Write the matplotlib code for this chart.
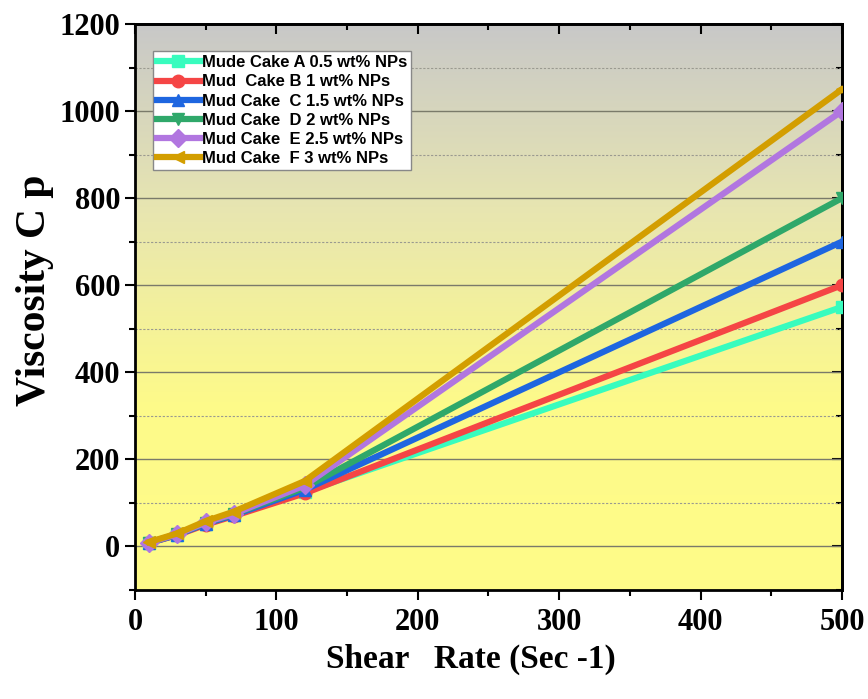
import numpy as np
import matplotlib
matplotlib.use("Agg")
import matplotlib.pyplot as plt
from matplotlib.colors import LinearSegmentedColormap
from matplotlib.ticker import MultipleLocator

shear_rate = [10, 30, 50, 70, 120, 500]
cake_a = [8, 27, 52, 72, 125, 550]
cake_b = [8, 26, 50, 70, 122, 600]
cake_c = [8, 27, 52, 72, 130, 700]
cake_d = [9, 28, 54, 74, 135, 800]
cake_e = [9, 28, 55, 75, 140, 1000]
cake_f = [10, 30, 58, 80, 150, 1050]
labels = ["Mude Cake A 0.5 wt% NPs", "Mud  Cake B 1 wt% NPs", "Mud Cake  C 1.5 wt% NPs",
          "Mud Cake  D 2 wt% NPs", "Mud Cake  E 2.5 wt% NPs", "Mud Cake  F 3 wt% NPs"]
series = [cake_a, cake_b, cake_c, cake_d, cake_e, cake_f]
colors = ["#38FCBE", "#F54545", "#1E66E0", "#2FA86A", "#B176E0", "#D39E00"]
markers = ["s", "o", "^", "v", "D", "<"]

fig = plt.figure(figsize=(8.68, 6.99), dpi=100)
ax = fig.add_axes([0.1555, 0.156, 0.8145, 0.8097])

cmap = LinearSegmentedColormap.from_list("bg", ["#C8C8C8", "#E8E6B0", "#FDFA8A", "#FFFC88"])
grad = np.linspace(0, 1, 256).reshape(-1, 1)
ax.imshow(grad, aspect="auto", cmap=cmap, extent=[0, 1, 0, 1], transform=ax.transAxes,
          zorder=0, interpolation="bicubic")

for y in range(0, 1201, 200):
    ax.axhline(y, color="#7a7a6a", lw=1.0, zorder=1)
for y in range(-100, 1201, 200):
    ax.axhline(y, color="#9a9a90", lw=0.8, ls=(0, (2, 1.5)), zorder=1)

for vals, c, m, lab in zip(series, colors, markers, labels):
    ax.plot(shear_rate, vals, color=c, marker=m, lw=4.5, ms=9, label=lab, zorder=3)

ax.set_xlim(0, 500)
ax.set_ylim(-100, 1200)
ax.xaxis.set_major_locator(MultipleLocator(100))
ax.xaxis.set_minor_locator(MultipleLocator(50))
ax.yaxis.set_major_locator(MultipleLocator(200))
ax.yaxis.set_minor_locator(MultipleLocator(100))

ax.tick_params(axis="both", which="major", length=7, width=1.5)
ax.tick_params(axis="both", which="minor", length=4, width=1.5)
for lbl in ax.get_xticklabels() + ax.get_yticklabels():
    lbl.set_fontfamily("Liberation Serif")
    lbl.set_fontweight("bold")
    lbl.set_fontsize(22)
ax.xaxis.set_tick_params(pad=6)

# mirrored inward ticks on top/right
axt = ax.secondary_xaxis("top")
axt.xaxis.set_major_locator(MultipleLocator(100))
axt.xaxis.set_minor_locator(MultipleLocator(50))
axt.tick_params(which="major", direction="in", length=7, width=1.5, labeltop=False)
axt.tick_params(which="minor", direction="in", length=4, width=1.5)
axr = ax.secondary_yaxis("right")
axr.yaxis.set_major_locator(MultipleLocator(200))
axr.yaxis.set_minor_locator(MultipleLocator(100))
axr.tick_params(which="major", direction="in", length=7, width=1.5, labelright=False)
axr.tick_params(which="minor", direction="in", length=4, width=1.5)
for a in (ax, axt, axr):
    for s in a.spines.values():
        s.set_linewidth(2)

ax.set_xlabel("Shear   Rate (Sec -1)", fontfamily="Liberation Serif", fontweight="bold",
              fontsize=24)
ax.xaxis.set_label_coords(0.475, -0.095)
ax.set_ylabel("Viscosity C p", fontfamily="Liberation Serif", fontweight="bold",
              fontsize=30)
ax.yaxis.set_label_coords(-0.114, 0.53)

leg = ax.legend(loc="upper left", bbox_to_anchor=(0.025, 0.952), fancybox=False,
                framealpha=1, edgecolor="#888888", handlelength=2.6, borderpad=0.25,
                labelspacing=0.25, handletextpad=0.1, borderaxespad=0,
                prop=dict(family="Liberation Sans", weight="bold", size=12))
leg.get_frame().set_linewidth(1)
leg.set_zorder(5)

fig.savefig("out.png", dpi=100)
